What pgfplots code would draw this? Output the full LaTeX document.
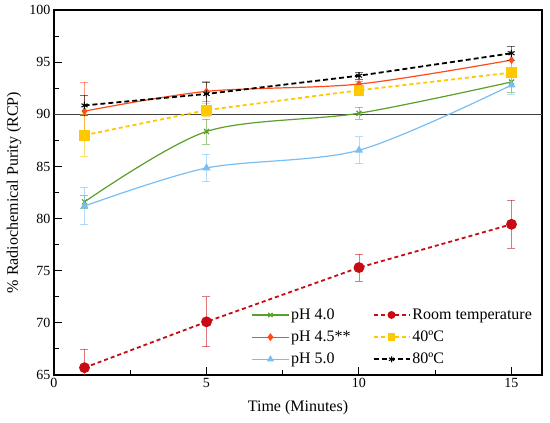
\documentclass[border=0pt]{standalone}
\usepackage{fontspec}
\setmainfont{Liberation Serif}
\usepackage{pgfplots}
\pgfplotsset{compat=1.18}
\definecolor{cgreen}{RGB}{90,160,40}
\definecolor{corange}{RGB}{255,75,25}
\definecolor{cblue}{RGB}{120,190,245}
\definecolor{cred}{RGB}{200,10,20}
\definecolor{cyellow}{RGB}{255,200,0}
\pgfplotsset{
  myerr/.style={error bars/.cd, y dir=both, y explicit,
    error bar style={line width=0.8pt, opacity=0.55, solid, #1},
    error mark options={rotate=90, mark size=4pt, line width=0.8pt, opacity=0.55, solid, #1}},
}
\begin{document}
\begin{tikzpicture}
\useasboundingbox (-54pt,-48pt) rectangle (496pt,375pt);
\begin{axis}[
  scale only axis,
  width=488pt, height=365pt,
  xmin=0, xmax=16, ymin=65, ymax=100,
  xtick={0,5,10,15}, ytick={65,70,75,80,85,90,95,100},
  xticklabels={\textrm{0},\textrm{5},\textrm{10},\textrm{15}},
  yticklabels={\textrm{65},\textrm{70},\textrm{75},\textrm{80},\textrm{85},\textrm{90},\textrm{95},\textrm{100}},
  minor x tick num=1, minor y tick num=1,
  tick pos=left,
  major tick length=8pt, minor tick length=5pt,
  axis line style={line width=1.1pt},
  every tick/.style={line width=1pt, black},
  tick label style={font=\rmfamily\fontsize{14}{16}\selectfont},
  label style={font=\fontsize{16}{18}\selectfont},
  xlabel={Time (Minutes)},
  ylabel={\% Radiochemical Purity (RCP)},
  xlabel style={at={(axis description cs:0.5,-0.09)}, anchor=center},
  ylabel style={at={(axis description cs:-0.082,0.5)}, anchor=center},
  legend columns=2,
  legend style={at={(0.99,0.015)}, anchor=south east, draw=none, fill=none,
    font=\fontsize{16}{18}\selectfont, row sep=6pt,
    /tikz/every even column/.append style={column sep=20pt}},
  legend cell align=left,
  legend image post style={mark size=3pt},
  legend image code/.code={\draw[mark repeat=2,mark phase=2,#1] plot coordinates {(0pt,0pt) (18pt,0pt) (36pt,0pt)};},
]
\addplot[forget plot, line width=0.8pt, black!75] coordinates {(0,90) (16,90)};

\addplot[cgreen, line width=1.2pt, smooth, mark=x, mark size=3.5pt, myerr=cgreen]
  coordinates {(1,81.6) +- (0,0.6) (5,88.35) +- (0,1.2) (10,90.1) +- (0,0.6) (15,93.1) +- (0,1.0)};
\addlegendentry{pH 4.0}

\addplot[cred, line width=1.8pt, dash pattern=on 4pt off 3pt, mark=*, mark size=4.5pt, mark options={solid}, myerr=cred]
  coordinates {(1,65.7) +- (0,1.8) (5,70.1) +- (0,2.4) (10,75.3) +- (0,1.3) (15,79.45) +- (0,2.3)};
\addlegendentry{Room temperature}

\addplot[corange, line width=1.2pt, smooth, mark=diamond*, mark size=3pt, myerr=corange]
  coordinates {(1,90.3) +- (0,2.75) (5,92.2) +- (0,1.0) (10,92.9) +- (0,0.3) (15,95.2) +- (0,0.8)};
\addlegendentry{pH 4.5**}

\addplot[cyellow, line width=1.8pt, dash pattern=on 4pt off 3pt, mark=square*, mark size=4.5pt, mark options={solid}, myerr=cyellow]
  coordinates {(1,88.0) +- (0,2.0) (5,90.4) +- (0,0.6) (10,92.3) +- (0,0.3) (15,94.0) +- (0,0.5)};
\addlegendentry{40ºC}

\addplot[cblue, line width=1.2pt, smooth, mark=triangle*, mark size=3.5pt, myerr=cblue]
  coordinates {(1,81.2) +- (0,1.8) (5,84.85) +- (0,1.3) (10,86.55) +- (0,1.3) (15,92.8) +- (0,0.9)};
\addlegendentry{pH 5.0}

\addplot[black, line width=1.8pt, dash pattern=on 5pt off 3pt, mark=asterisk, mark size=3.5pt, mark options={solid, line width=1pt}, myerr=black]
  coordinates {(1,90.85) +- (0,1.0) (5,91.95) +- (0,1.1) (10,93.7) +- (0,0.35) (15,95.85) +- (0,0.65)};
\addlegendentry{80ºC}
\end{axis}
\end{tikzpicture}
\end{document}
